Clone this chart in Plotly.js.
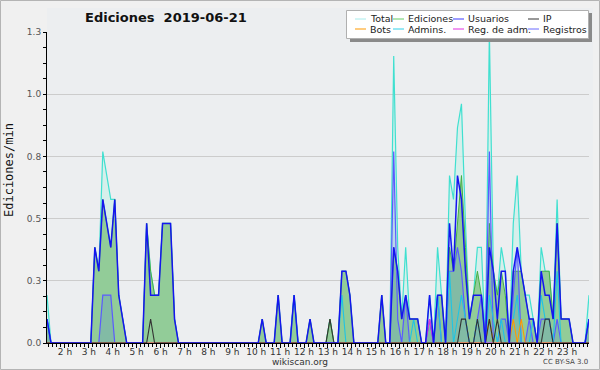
<!DOCTYPE html>
<html><head><meta charset="utf-8">
<script src="https://cdn.plot.ly/plotly-3.0.1.min.js"></script>
<style>html,body{margin:0;padding:0;background:#f0f0f0}#chart{width:600px;height:370px}</style>
</head><body><div id="chart"></div>
<script>
// 10-minute bins, first bin centred at 1h15, values in edits/min
const startHour = 1.25;
const stepHour = 1 / 6;
const total = [
 0.2,0,0,0,0,                 // 1h
 0,0,0,0,0,0,                 // 2h
 0,0.4,0.3,0.8,0.7,0.6,       // 3h
 0.6,0.2,0.1,0,0,0,           // 4h
 0,0,0.5,0.3,0.2,0.2,         // 5h
 0.5,0.5,0.5,0.1,0,0,         // 6h
 0,0,0,0,0,0, 0,0,0,0,0,0, 0,0,0,0,0,0, // 7h-9h
 0,0.1,0,0,0,0.2,             // 10h
 0,0,0,0.2,0,0,               // 11h
 0,0.1,0,0,0,0,               // 12h
 0.1,0,0,0.3,0.3,0.2,         // 13h
 0,0,0,0,0,0,                 // 14h
 0,0.2,0,0,1.2,0.4,           // 15h
 0.1,0.4,0.1,0.1,0.1,0,       // 16h
 0,0.2,0,0.4,0.2,0,           // 17h
 0.7,0.6,0.9,1.0,0.5,0.1,     // 18h
 0.2,0.4,0.4,0,1.3,0.3,       // 19h
 0.2,0.4,0.3,0,0.5,0.7,       // 20h
 0.3,0.2,0.2,0.1,0,0.4,       // 21h
 0.3,0.3,0.1,0.6,0.1,0.1,     // 22h
 0.1,0,0,0,0,0.2              // 23h
];
const ediciones = [
 0.1,0,0,0,0,
 0,0,0,0,0,0,
 0,0.4,0.3,0.6,0.5,0.4,
 0.6,0.2,0.1,0,0,0,
 0,0,0.5,0.3,0.2,0.2,
 0.5,0.5,0.5,0.1,0,0,
 0,0,0,0,0,0, 0,0,0,0,0,0, 0,0,0,0,0,0,
 0,0.1,0,0,0,0.2,
 0,0,0,0.2,0,0,
 0,0.1,0,0,0,0,
 0.1,0,0,0.3,0.3,0.2,
 0,0,0,0,0,0,
 0,0.2,0,0,0.4,0.3,
 0.1,0.2,0.1,0.1,0.1,0,
 0,0.1,0,0.2,0.2,0,
 0.4,0.3,0.5,0.7,0.4,0.1,
 0.2,0.3,0.2,0,0.5,0.3,
 0.2,0.3,0.2,0,0.3,0.3,
 0.3,0.2,0.1,0.1,0,0.3,
 0.3,0.3,0.1,0.5,0.1,0.1,
 0.1,0,0,0,0,0.1
];
const usuarios = [
 0.1,0,0,0,0,
 0,0,0,0,0,0,
 0,0.4,0.3,0.6,0.5,0.4,
 0.6,0.2,0.1,0,0,0,
 0,0,0.5,0.2,0.2,0.2,
 0.5,0.5,0.5,0.1,0,0,
 0,0,0,0,0,0, 0,0,0,0,0,0, 0,0,0,0,0,0,
 0,0.1,0,0,0,0.2,
 0,0,0,0.2,0,0,
 0,0.1,0,0,0,0,
 0,0,0,0.3,0.3,0.2,
 0,0,0,0,0,0,
 0,0.2,0,0,0.4,0.3,
 0.1,0.2,0.1,0.1,0.1,0,
 0,0.2,0,0.2,0.2,0,
 0.5,0.3,0.7,0.6,0.3,0.1,
 0.2,0.2,0.2,0,0.4,0.3,
 0.1,0.3,0.3,0,0.3,0.4,
 0.3,0.2,0.1,0.1,0,0.3,
 0.2,0.2,0.1,0.5,0.1,0.1,
 0.1,0,0,0,0,0.1
];
const ip = [
 0,0,0,0,0,
 0,0,0,0,0,0,
 0,0,0,0,0,0,
 0,0,0,0,0,0,
 0,0,0,0.1,0,0,
 0,0,0,0,0,0,
 0,0,0,0,0,0, 0,0,0,0,0,0, 0,0,0,0,0,0,
 0,0,0,0,0,0,
 0,0,0,0,0,0,
 0,0,0,0,0,0,
 0.1,0,0,0,0,0,
 0,0,0,0,0,0,
 0,0,0,0,0,0,
 0,0,0,0,0,0,
 0,0,0,0,0,0,
 0,0,0,0.1,0.1,0,
 0,0.1,0,0,0.1,0,
 0.1,0,0,0,0,0,
 0,0,0,0,0,0,
 0.1,0.1,0,0,0,0,
 0,0,0,0,0,0
];
const bots = [
 0,0,0,0,0, 0,0,0,0,0,0, 0,0,0,0,0,0, 0,0,0,0,0,0, 0,0,0,0,0,0, 0,0,0,0,0,0,
 0,0,0,0,0,0, 0,0,0,0,0,0, 0,0,0,0,0,0,
 0,0,0,0,0,0, 0,0,0,0,0,0, 0,0,0,0,0,0, 0,0,0,0,0,0, 0,0,0,0,0,0,
 0,0,0,0,0,0, 0,0,0,0,0,0, 0,0,0,0,0,0, 0,0,0,0,0,0,
 0,0,0,0,0.1,0,               // 19h
 0,0,0,0,0.1,0,               // 20h
 0.1,0,0,0,0,0,               // 21h
 0,0,0,0,0,0, 0,0,0,0,0,0
];
const admins = [
 0.1,0,0,0,0, 0,0,0,0,0,0, 0,0,0,0,0,0, 0,0,0,0,0,0, 0,0,0,0,0,0, 0,0,0,0,0,0,
 0,0,0,0,0,0, 0,0,0,0,0,0, 0,0,0,0,0,0,
 0,0,0,0,0,0,
 0,0,0,0.2,0,0,
 0,0,0,0,0,0,
 0,0,0,0.2,0,0,
 0,0,0,0,0,0,
 0,0,0,0,0,0,
 0,0,0,0.1,0,0,
 0,0,0,0.2,0,0,
 0.3,0,0.1,0.2,0.1,0,
 0,0.1,0,0,0.2,0.1,
 0,0.1,0,0,0.1,0.2,
 0,0,0,0.1,0,0.2,
 0.1,0.1,0,0.3,0,0,
 0,0,0,0,0,0.1
];
const regAdm = [
 0,0,0,0,0, 0,0,0,0,0,0, 0,0,0,0,0,0, 0,0,0,0,0,0, 0,0,0,0,0,0, 0,0,0,0,0,0,
 0,0,0,0,0,0, 0,0,0,0,0,0, 0,0,0,0,0,0,
 0,0,0,0,0,0, 0,0,0,0,0,0, 0,0,0,0,0,0, 0,0,0,0,0,0, 0,0,0,0,0,0,
 0,0,0,0,0,0, 0,0,0,0,0,0,
 0,0.1,0,0,0,0,               // 17h
 0,0,0,0,0,0, 0,0,0,0,0,0, 0,0,0,0,0,0, 0,0,0,0,0,0, 0,0,0,0,0,0, 0,0,0,0,0,0
];
const registros = [
 0.1,0,0,0,0,
 0,0,0,0,0,0,
 0,0,0,0.2,0.2,0.2,
 0,0,0,0,0,0,
 0,0,0,0,0,0,
 0,0,0,0,0,0,
 0,0,0,0,0,0, 0,0,0,0,0,0, 0,0,0,0,0,0,
 0,0,0,0,0,0, 0,0,0,0,0,0, 0,0,0,0,0,0, 0,0,0,0,0,0, 0,0,0,0,0,0,
 0,0,0,0,0.8,0.1,             // 15h
 0,0.2,0,0,0,0,               // 16h
 0,0.1,0,0.2,0,0,             // 17h
 0.3,0.3,0.4,0.3,0.1,0,       // 18h
 0,0.1,0.2,0,0.8,0,           // 19h
 0,0.1,0.1,0,0.2,0.4,         // 20h
 0,0,0.1,0,0,0.1,             // 21h
 0.1,0.1,0,0.1,0,0,           // 22h
 0,0,0,0,0,0.1                // 23h
];

const names = ['Total','Ediciones','Usuarios','IP','Bots','Admins.','Reg. de adm.','Registros'];
const colors = ['#40e0d0','#44b044','#1515f0','#333333','#ff9900','#20c4e4','#e030e0','#5a5aff'];
const legendSwatch = ['#a8ecec','#66cc66','#3a3aff','#333333','#ff9900','#30d0e8','#e030e0','#6a6aff'];

const times = total.map((_, i) => startHour + i * stepHour);
const series = [total, ediciones, usuarios, ip, bots, admins, regAdm, registros];

const traces = [];
traces.push({x: times, y: total, type:'scatter', mode:'lines', fill:'tozeroy',
  fillcolor:'rgba(200,240,232,0.6)', line:{color:colors[0], width:1.2}, name:names[0], showlegend:false});
traces.push({x: times, y: ediciones, type:'scatter', mode:'lines', fill:'tozeroy',
  fillcolor:'#92cc98', line:{color:colors[1], width:1}, name:names[1], showlegend:false});
traces.push({x: times, y: registros, type:'scatter', mode:'lines', fill:'tozeroy',
  fillcolor:'rgba(60,110,230,0.18)', line:{color:colors[7], width:1.2}, name:names[7], showlegend:false});
[5,6,4,3,2].forEach(i => {
  traces.push({x: times, y: series[i], type:'scatter', mode:'lines',
    line:{color:colors[i], width: i===2 ? 1.5 : 1.1}, name:names[i], showlegend:false});
});

// pixel helpers (plot area: x 47..589, y 32..343)
const L = 47, R = 589, T = 32, B = 343;
const px = p => (p - L) / (R - L);
const py = p => (B - p) / (B - T);

const shapes = [
  {type:'rect', xref:'paper', yref:'paper', x0:px(0.5), x1:px(599.5), y0:py(0.5), y1:py(369.5),
   line:{color:'#b4b4b4', width:1}, fillcolor:'rgba(0,0,0,0)', layer:'below'},
  {type:'rect', xref:'paper', yref:'paper', x0:px(47), x1:px(593), y0:py(343), y1:py(8),
   line:{width:0}, fillcolor:'#eceef0', layer:'below'},
  {type:'rect', xref:'paper', yref:'paper', x0:px(350), x1:px(592), y0:py(42), y1:py(13),
   line:{width:0}, fillcolor:'#8a8a8a', layer:'above'},
  {type:'rect', xref:'paper', yref:'paper', x0:px(346.5), x1:px(588.5), y0:py(38.5), y1:py(10.5),
   line:{color:'#b0b0b0', width:1}, fillcolor:'#ffffff', layer:'above'}
];
const annotations = [
  {text:'wikiscan.org', xref:'paper', yref:'paper', x:px(300), y:py(362), xanchor:'center', yanchor:'middle',
   showarrow:false, font:{family:'DejaVu Sans', size:9, color:'#333'}},
  {text:'CC BY-SA 3.0', xref:'paper', yref:'paper', x:px(590), y:py(362), xanchor:'right', yanchor:'middle',
   showarrow:false, font:{family:'DejaVu Sans', size:7, color:'#444'}},
  {text:'Ediciones/min', xref:'paper', yref:'paper', x:px(9), y:py(170), xanchor:'center', yanchor:'middle',
   textangle:-90, showarrow:false, font:{family:'DejaVu Sans Mono', size:12, color:'#111'}}
];
const lineX = [355, 393, 453, 528];
const rowY = [19, 29];
names.forEach((nm, j) => {
  const row = Math.floor(j / 4), col = j % 4;
  const x0 = lineX[col], y = rowY[row];
  shapes.push({type:'line', xref:'paper', yref:'paper', x0:px(x0), x1:px(x0+11), y0:py(y), y1:py(y),
    line:{color:legendSwatch[j], width:1}, layer:'above'});
  annotations.push({text:nm, xref:'paper', yref:'paper', x:px(x0+13), y:py(y), xanchor:'left', yanchor:'middle',
    showarrow:false, font:{family:'DejaVu Sans', size:9.5, color:'#222'}});
});

const layout = {
  width:600, height:370,
  margin:{l:L, r:600-R, t:T, b:370-B},
  paper_bgcolor:'#f0f0f0', plot_bgcolor:'#eceef0',
  title:{text:'<b>Ediciones\u00a0\u00a02019-06-21</b>', x:85/600, xref:'container', xanchor:'left',
    y:1-17/370, yref:'container', yanchor:'middle', font:{family:'DejaVu Sans', size:13, color:'#111'}},
  xaxis:{range:[1.25, 23.9167], tickmode:'linear', tick0:0, dtick:1, ticksuffix:' h',
    ticks:'outside', ticklen:4, tickcolor:'#000', showline:true, linecolor:'#000', linewidth:1,
    showgrid:false, zeroline:false, ticklabelstandoff:-4, tickfont:{family:'DejaVu Sans', size:9, color:'#333'},
    minor:{tickmode:'linear', tick0:0, dtick:1/6, ticks:'outside', ticklen:3, tickcolor:'#000', showgrid:false}},
  yaxis:{range:[0, 1.3001], tickmode:'linear', tick0:0, dtick:0.26, tickformat:'.1f',
    ticks:'outside', ticklen:3, tickcolor:'#000', showline:true, linecolor:'#000', linewidth:1,
    showgrid:true, gridcolor:'#cccccc', gridwidth:1, zeroline:false,
    tickfont:{family:'DejaVu Sans', size:9, color:'#555'},
    minor:{tickmode:'linear', tick0:0, dtick:0.065, ticks:'outside', ticklen:3, tickcolor:'#000', showgrid:false}},
  shapes:shapes, annotations:annotations, showlegend:false
};
Plotly.newPlot('chart', traces, layout, {displayModeBar:false, staticPlot:true});
</script></body></html>
